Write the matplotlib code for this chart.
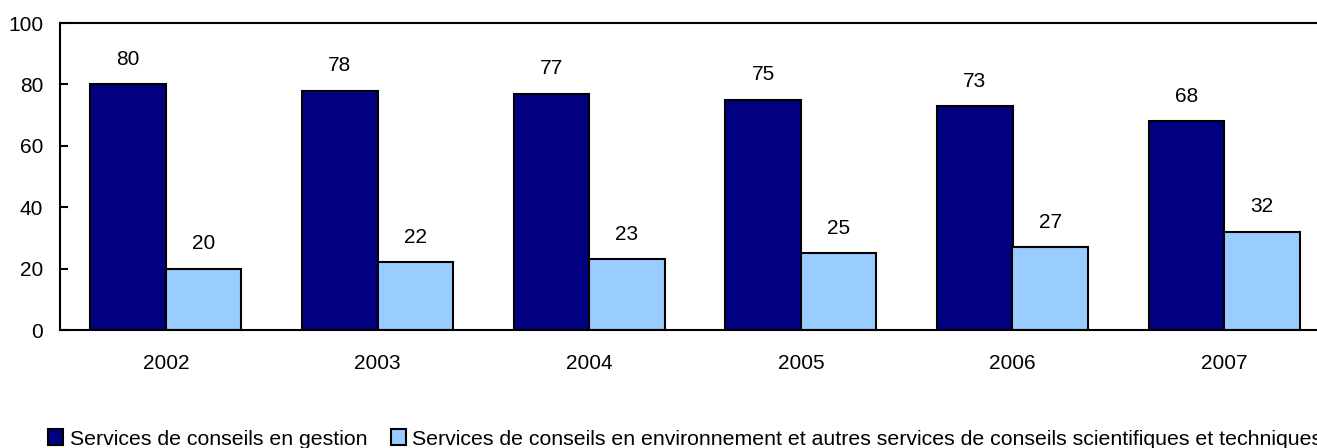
import matplotlib
matplotlib.use("Agg")
import matplotlib.pyplot as plt
import numpy as np
from matplotlib.patches import Patch

years = ["2002", "2003", "2004", "2005", "2006", "2007"]
gestion = [80, 78, 77, 75, 73, 68]
environnement = [20, 22, 23, 25, 27, 32]
labels = [
    "Services de conseils en gestion",
    "Services de conseils en environnement et autres services de conseils scientifiques et techniques",
]
colors = ["#000080", "#99ccff"]

plt.rcParams["font.family"] = ["Liberation Sans", "DejaVu Sans"]
plt.rcParams["font.size"] = 15

W, H = 1317, 448
fig = plt.figure(figsize=(W / 100, H / 100), dpi=100)
# the plot area runs slightly past the right edge of the canvas
left, right, top, bottom = 60, 1330, 23, 330
ax = fig.add_axes([left / W, 1 - bottom / H, (right - left) / W, (bottom - top) / H])

x = np.arange(len(years))
bw = 0.357
b1 = ax.bar(x - bw / 2, gestion, bw, color=colors[0], edgecolor="black", linewidth=1.5)
b2 = ax.bar(x + bw / 2, environnement, bw, color=colors[1], edgecolor="black", linewidth=1.5)

for bars, vals in ((b1, gestion), (b2, environnement)):
    for rect, v in zip(bars, vals):
        ax.annotate(str(v), (rect.get_x() + rect.get_width() / 2, v),
                    xytext=(0, 11), textcoords="offset points",
                    ha="center", va="bottom")

ax.set_xlim(-0.5, len(years) - 0.5)
ax.set_ylim(0, 100)
ax.set_yticks(range(0, 101, 20))
ax.set_xticks(x)
ax.set_xticklabels(years)
ax.tick_params(axis="y", direction="in", length=6, width=1.5, pad=12)
ax.tick_params(axis="x", length=0, pad=17)
for side in ("left", "top", "bottom", "right"):
    ax.spines[side].set_linewidth(1.5)

handles = [Patch(facecolor=c, edgecolor="black", linewidth=1.5) for c in colors]
fig.legend(handles, labels, loc="center left", bbox_to_anchor=(48 / W, 9 / H),
           ncol=2, frameon=False, fontsize=15.3, handlelength=0.72, handleheight=0.78,
           handletextpad=0.3, columnspacing=1.1, borderpad=0, borderaxespad=0)

fig.savefig("out.png", dpi=100)
